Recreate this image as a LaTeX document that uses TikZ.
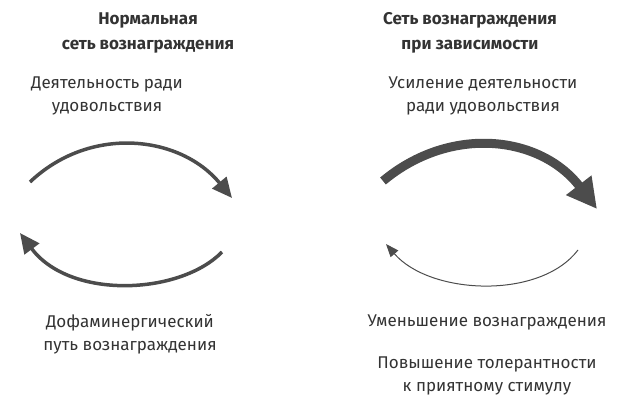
\documentclass[tikz,border=0pt]{standalone}
\usepackage{fontspec}
\setmainfont{Fira Sans}
\usetikzlibrary{arrows.meta}
\begin{document}
\begin{tikzpicture}[x=1pt,y=-1pt,
  txt/.style={align=center,text=black!80,font=\fontsize{17}{23}\selectfont},
  ttl/.style={txt,font=\fontsize{17}{25}\selectfont\bfseries},
  arr/.style={draw=black!70,line width=3.5pt,-{Triangle[length=20pt,width=18pt]}},
  thin/.style={draw=black!70,line width=1pt,-{Triangle[length=13pt,width=10pt]}}]
\useasboundingbox (0,0) rectangle (633,414);
\node[ttl] (t1) at (148,33) {Нормальная\\сеть вознаграждения};
\node[txt] (a1) at (107,96) {Деятельность ради\\удовольствия};
\node[txt] (b1) at (130,334) {Дофаминергический\\путь вознаграждения};
\node[ttl] (t2) at (470,33) {Сеть вознаграждения\\при зависимости};
\node[txt] (a2) at (483,96) {Усиление деятельности\\ради удовольствия};
\node[txt] (b2) at (487,322) {Уменьшение вознаграждения};
\node[txt] (c2) at (487,376) {Повышение толерантности\\к приятному стимулу};
\coordinate (p1) at (30,182); \coordinate (q1) at (232,198);
\coordinate (p2) at (222,252); \coordinate (q2) at (20,233);
\coordinate (p3) at (383,181); \coordinate (q3) at (597,209);
\coordinate (p4) at (578,250); \coordinate (q4) at (386,244);
\draw[arr] (p1) .. controls (90,125) and (180,135) .. (q1);
\draw[arr] (p2) .. controls (180,295) and (70,300) .. (q2);
\draw[arr,line width=9pt,-{Triangle[length=30pt,width=30pt]}] (p3) .. controls (450,125) and (540,135) .. (q3);
\draw[thin] (p4) .. controls (540,300) and (430,295) .. (q4);
\end{tikzpicture}
\end{document}
